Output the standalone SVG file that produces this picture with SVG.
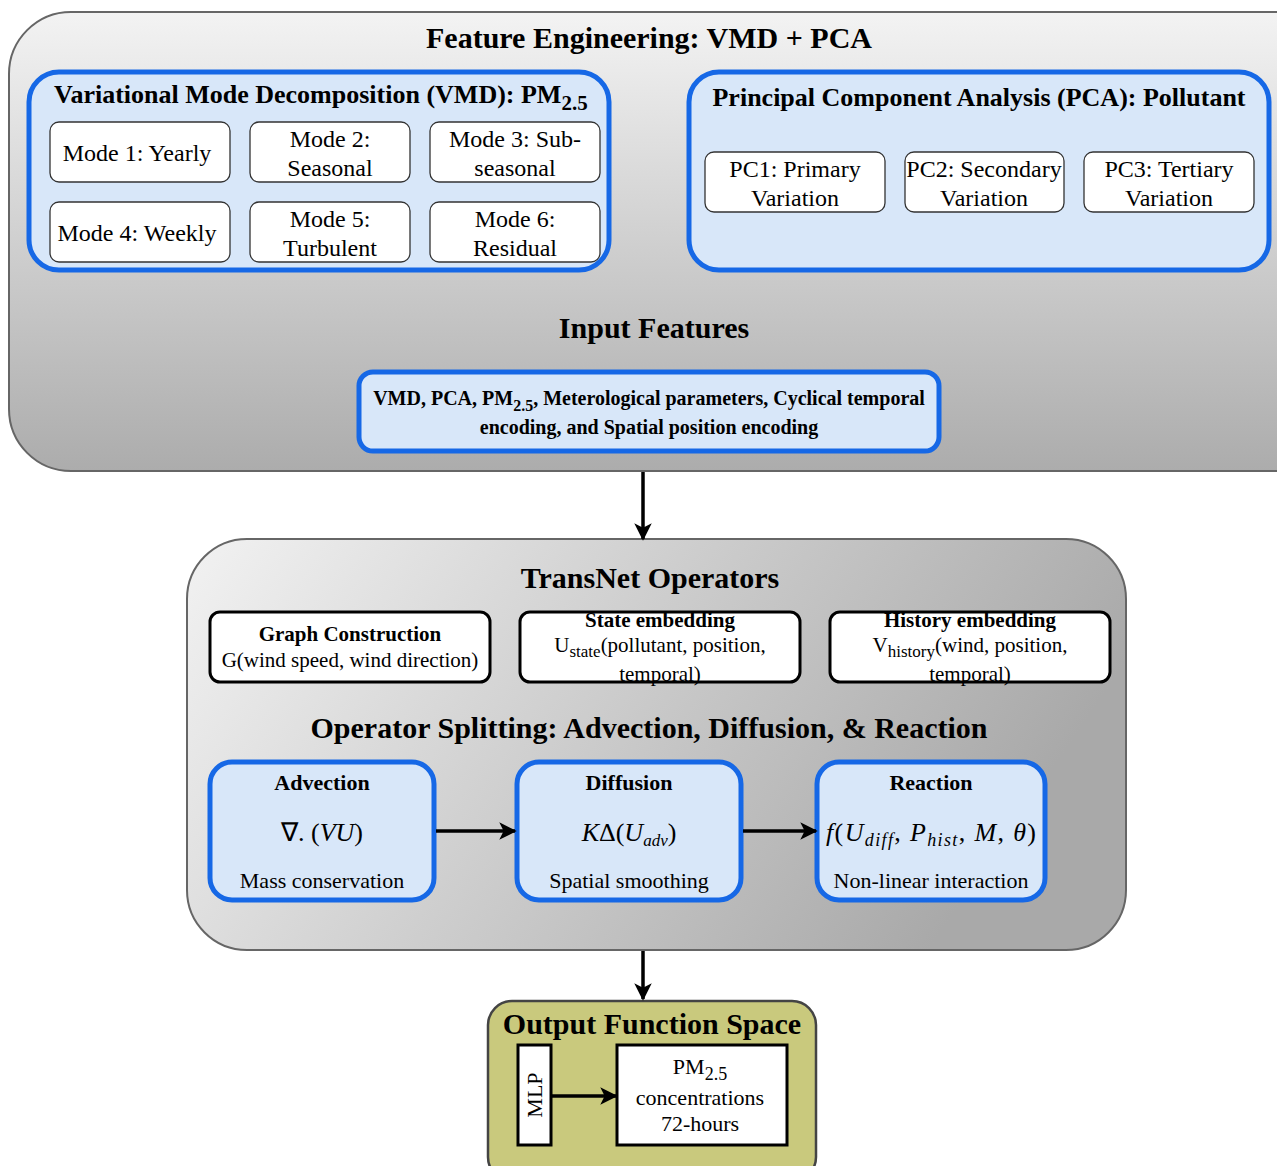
<svg xmlns="http://www.w3.org/2000/svg" width="1277" height="1166" viewBox="0 0 1277 1166">
<defs>
<linearGradient id="gTop" x1="0" y1="0" x2="0" y2="1">
<stop offset="0" stop-color="#f3f3f3"/>
<stop offset="1" stop-color="#acacac"/>
</linearGradient>
<linearGradient id="gMid" x1="0" y1="0" x2="1" y2="0.3">
<stop offset="0" stop-color="#f2f2f2"/>
<stop offset="1" stop-color="#a9a9a9"/>
</linearGradient>
<marker id="arr" viewBox="0 0 10 10" refX="9" refY="5" markerWidth="5" markerHeight="5" markerUnits="strokeWidth" orient="auto">
<path d="M0,0 L10,5 L0,10 L2.5,5 Z" fill="#000"/>
</marker>
</defs>
<style>
text{font-family:"Liberation Serif","Times New Roman",serif;fill:#000}
.h1{font-size:30px;font-weight:bold}
.h2{font-size:26px;font-weight:bold}
.h3{font-size:21px;font-weight:bold}
.h4{font-size:22px;font-weight:bold}
.hi{font-size:20px;font-weight:bold}
.hf{font-size:30px;font-weight:bold}
.t{font-size:24px}
.t2{font-size:21px}
.t3{font-size:22px}
.m{font-size:26px;font-style:italic}
.blue{fill:#d8e7f9;stroke:#1668e6;stroke-width:5}
.wb{fill:#fff;stroke:#333;stroke-width:1.3}
.bb{fill:#fff;stroke:#000;stroke-width:3}
.con{stroke:#000;stroke-width:3.5;fill:none;marker-end:url(#arr)}
</style>

<g id="feature-engineering">
<rect x="9" y="12" width="1330" height="459" rx="62" fill="url(#gTop)" stroke="#666" stroke-width="2"/>
<text class="h1" x="649" y="48" text-anchor="middle">Feature Engineering: VMD + PCA</text>
</g>

<g id="vmd">
<rect class="blue" x="29" y="72" width="580" height="198" rx="30"/>
<text class="h2" x="54" y="103">Variational Mode Decomposition (VMD): PM<tspan font-size="21" dy="7">2.5</tspan></text>
</g>
<g id="mode1"><rect class="wb" x="50" y="122" width="180" height="60" rx="9"/><text class="t" x="137" y="161" text-anchor="middle">Mode 1: Yearly</text></g>
<g id="mode2"><rect class="wb" x="250" y="122" width="160" height="60" rx="9"/><text class="t" x="330" y="147" text-anchor="middle">Mode 2:</text><text class="t" x="330" y="176" text-anchor="middle">Seasonal</text></g>
<g id="mode3"><rect class="wb" x="430" y="122" width="170" height="60" rx="9"/><text class="t" x="515" y="147" text-anchor="middle">Mode 3: Sub-</text><text class="t" x="515" y="176" text-anchor="middle">seasonal</text></g>
<g id="mode4"><rect class="wb" x="50" y="202" width="180" height="60" rx="9"/><text class="t" x="137" y="241" text-anchor="middle">Mode 4: Weekly</text></g>
<g id="mode5"><rect class="wb" x="250" y="202" width="160" height="60" rx="9"/><text class="t" x="330" y="227" text-anchor="middle">Mode 5:</text><text class="t" x="330" y="256" text-anchor="middle">Turbulent</text></g>
<g id="mode6"><rect class="wb" x="430" y="202" width="170" height="60" rx="9"/><text class="t" x="515" y="227" text-anchor="middle">Mode 6:</text><text class="t" x="515" y="256" text-anchor="middle">Residual</text></g>

<g id="pca">
<rect class="blue" x="689" y="72" width="580" height="198" rx="30"/>
<text class="h2" x="979" y="106" text-anchor="middle">Principal Component Analysis (PCA): Pollutant</text>
</g>
<g id="pc1"><rect class="wb" x="705" y="152" width="180" height="60" rx="9"/><text class="t" x="795" y="177" text-anchor="middle">PC1: Primary</text><text class="t" x="795" y="206" text-anchor="middle">Variation</text></g>
<g id="pc2"><rect class="wb" x="905" y="152" width="159" height="60" rx="9"/><text class="t" x="984" y="177" text-anchor="middle">PC2: Secondary</text><text class="t" x="984" y="206" text-anchor="middle">Variation</text></g>
<g id="pc3"><rect class="wb" x="1084" y="152" width="170" height="60" rx="9"/><text class="t" x="1169" y="177" text-anchor="middle">PC3: Tertiary</text><text class="t" x="1169" y="206" text-anchor="middle">Variation</text></g>

<g id="input-features">
<text class="hf" x="654" y="338" text-anchor="middle">Input Features</text>
<rect class="blue" x="359" y="372" width="580" height="79" rx="14"/>
<text class="hi" x="649" y="405" text-anchor="middle">VMD, PCA, PM<tspan font-size="16" dy="6">2.5</tspan><tspan dy="-6">, Meterological parameters, Cyclical temporal</tspan></text>
<text class="hi" x="649" y="434" text-anchor="middle">encoding, and Spatial position encoding</text>
</g>

<g id="transnet">
<rect x="187" y="539" width="939" height="411" rx="60" fill="url(#gMid)" stroke="#666" stroke-width="2"/>
<text class="h1" x="650" y="588" text-anchor="middle">TransNet Operators</text>
<text class="h1" x="649" y="738" text-anchor="middle">Operator Splitting: Advection, Diffusion, &amp; Reaction</text>
</g>
<g id="graph-construction"><rect class="bb" x="210" y="612" width="280" height="70" rx="10"/><text class="h3" x="350" y="641" text-anchor="middle">Graph Construction</text><text class="t2" x="350" y="667" text-anchor="middle">G(wind speed, wind direction)</text></g>
<g id="state-embedding"><rect class="bb" x="520" y="612" width="280" height="70" rx="10"/><text class="h3" x="660" y="627" text-anchor="middle">State embedding</text><text class="t2" x="660" y="652" text-anchor="middle">U<tspan font-size="17" dy="5">state</tspan><tspan dy="-5">(pollutant, position,</tspan></text><text class="t2" x="660" y="681" text-anchor="middle">temporal)</text></g>
<g id="history-embedding"><rect class="bb" x="830" y="612" width="280" height="70" rx="10"/><text class="h3" x="970" y="627" text-anchor="middle">History embedding</text><text class="t2" x="970" y="652" text-anchor="middle">V<tspan font-size="17" dy="5">history</tspan><tspan dy="-5">(wind, position,</tspan></text><text class="t2" x="970" y="681" text-anchor="middle">temporal)</text></g>

<g id="advection"><rect class="blue" x="210" y="762" width="224" height="138" rx="22"/><text class="h4" x="322" y="790" text-anchor="middle">Advection</text><text class="m" x="322" y="841" text-anchor="middle"><tspan font-style="normal">∇. (</tspan>VU<tspan font-style="normal">)</tspan></text><text class="t3" x="322" y="888" text-anchor="middle">Mass conservation</text></g>
<g id="diffusion"><rect class="blue" x="517" y="762" width="224" height="138" rx="22"/><text class="h4" x="629" y="790" text-anchor="middle">Diffusion</text><text class="m" x="629" y="841" text-anchor="middle">K<tspan font-style="normal">Δ(</tspan>U<tspan font-size="17" dy="5">adv</tspan><tspan dy="-5" font-style="normal">)</tspan></text><text class="t3" x="629" y="888" text-anchor="middle">Spatial smoothing</text></g>
<g id="reaction"><rect class="blue" x="817" y="762" width="228" height="138" rx="22"/><text class="h4" x="931" y="790" text-anchor="middle">Reaction</text><text class="m" x="826" y="841" textLength="210" lengthAdjust="spacing">f<tspan font-style="normal">(</tspan>U<tspan font-size="18" dy="5">diff</tspan><tspan dy="-5" font-style="normal">, </tspan>P<tspan font-size="18" dy="5">hist</tspan><tspan dy="-5" font-style="normal">, </tspan>M<tspan font-style="normal">, </tspan>θ<tspan font-style="normal">)</tspan></text><text class="t3" x="931" y="888" text-anchor="middle">Non-linear interaction</text></g>

<g id="output-function-space">
<rect x="488" y="1001" width="328" height="180" rx="24" fill="#c9c97d" stroke="#444" stroke-width="2.5"/>
<text class="h1" x="652" y="1034" text-anchor="middle">Output Function Space</text>
</g>
<g id="mlp"><rect class="bb" x="518" y="1045" width="33" height="100"/><text class="t3" x="0" y="0" text-anchor="middle" transform="translate(542,1095) rotate(-90)">MLP</text></g>
<g id="pm-output"><rect class="bb" x="617" y="1045" width="170" height="100"/><text class="t3" x="700" y="1074" text-anchor="middle">PM<tspan font-size="18" dy="6">2.5</tspan></text><text class="t3" x="700" y="1105" text-anchor="middle">concentrations</text><text class="t3" x="700" y="1131" text-anchor="middle">72-hours</text></g>

<g id="connectors">
<line class="con" x1="643" y1="472" x2="643" y2="539"/>
<line class="con" x1="436" y1="831" x2="515" y2="831"/>
<line class="con" x1="743" y1="831" x2="816" y2="831"/>
<line class="con" x1="643" y1="951" x2="643" y2="999"/>
<line class="con" x1="552" y1="1096" x2="616" y2="1096"/>
</g>
</svg>
